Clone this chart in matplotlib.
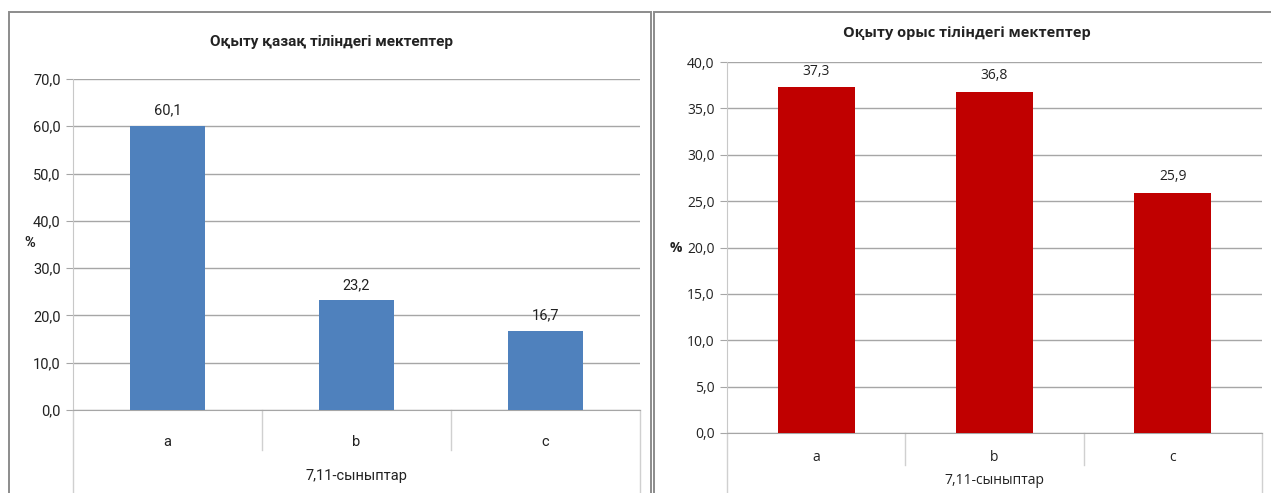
import matplotlib
matplotlib.use("Agg")
import matplotlib.pyplot as plt
from matplotlib.patches import Rectangle
from matplotlib.ticker import MultipleLocator, FuncFormatter

categories = ["a", "b", "c"]
kaz_values = [60.1, 23.2, 16.7]
rus_values = [37.3, 36.8, 25.9]
kaz_title = "Оқыту қазақ тіліндегі мектептер"
rus_title = "Оқыту орыс тіліндегі мектептер"
group_label = "7,11-сыныптар"

W, H = 1271, 493
fig = plt.figure(figsize=(W / 100, H / 100), dpi=100)
fig.patch.set_facecolor("white")


def px_axes(x0, y0, x1, y1):
    # pixel box (top-left origin) -> figure axes
    return fig.add_axes([x0 / W, 1 - y1 / H, (x1 - x0) / W, (y1 - y0) / H])


def comma(v, pos=None):
    return f"{v:.1f}".replace(".", ",")


# panel borders
fig.add_artist(Rectangle((9 / W, -0.1), (651 - 9) / W, 1.1 - 12 / H, transform=fig.transFigure,
                         fill=False, edgecolor="#8c8c8c", linewidth=1.4))
fig.add_artist(Rectangle((654 / W, -0.1), 0.6, 1.1 - 12 / H, transform=fig.transFigure,
                         fill=False, edgecolor="#8c8c8c", linewidth=1.4))


def panel(box, values, color, ymax, step, title, title_xy, pct_xy, font, fs, title_fs,
          div_px, tick_pad, group_y, bar_w):
    ax = px_axes(*box)
    x = range(len(categories))
    ax.bar(x, values, width=bar_w, color=color, zorder=3)
    ax.set_xlim(-0.5, len(categories) - 0.5)
    ax.set_ylim(0, ymax)
    ax.yaxis.set_major_locator(MultipleLocator(step))
    ax.yaxis.set_major_formatter(FuncFormatter(comma))
    ax.grid(axis="y", color="#a6a6a6", linewidth=1.0, zorder=0)
    for s in ["top", "right"]:
        ax.spines[s].set_visible(False)
    ax.spines["left"].set_color("#c8c8c8")
    ax.spines["bottom"].set_color("#a6a6a6")
    ax.tick_params(axis="y", length=5, color="#a6a6a6", labelsize=fs, pad=4)
    ax.tick_params(axis="x", length=0, labelsize=fs, pad=tick_pad)
    ax.set_xticks(list(x))
    ax.set_xticklabels(categories)
    for lab in ax.get_xticklabels() + ax.get_yticklabels():
        lab.set_family(font)
        lab.set_color("#222222")
    for xi, v in zip(x, values):
        ax.annotate(comma(v), (xi, v), xytext=(0, 6), textcoords="offset points",
                    ha="center", va="bottom", fontsize=fs, family=font, color="#222222")
    # category box below the axis
    h_ax = box[3] - box[1]
    for xd in [0.5, 1.5]:
        ax.plot([xd, xd], [0, -div_px / h_ax], color="#d0d0d0", linewidth=1.0,
                transform=ax.get_xaxis_transform(), clip_on=False)
    for xd in [-0.5, len(categories) - 0.5]:
        ax.plot([xd, xd], [0, -1.0], color="#d0d0d0", linewidth=1.0,
                transform=ax.get_xaxis_transform(), clip_on=False)
    fig.text(title_xy[0] / W, 1 - title_xy[1] / H, title, ha="center", va="center",
             fontsize=title_fs, fontweight="bold", family=font, color="#222222")
    fig.text(pct_xy[0] / W, 1 - pct_xy[1] / H, "%", ha="center", va="center",
             fontsize=fs, fontweight="bold", family=font, color="#222222")
    fig.text((box[0] + box[2]) / 2 / W, 1 - group_y / H, group_label, ha="center",
             va="center", fontsize=fs, family=font, color="#222222")
    return ax


narrow = ["Roboto", "DejaVu Sans"]
normal = ["Open Sans", "DejaVu Sans"]

panel((73, 79, 640, 410), kaz_values, "#4f81bd", 70, 10, kaz_title, (331, 42), (30, 243),
      narrow, 10.5, 11, 40, 18, 476, 0.4)
panel((727, 62, 1262, 433), rus_values, "#c00000", 40, 5, rus_title, (967, 33), (676, 248),
      normal, 10, 10.5, 32, 12, 481, 0.43)

fig.savefig("out.png", dpi=100, facecolor="white")
